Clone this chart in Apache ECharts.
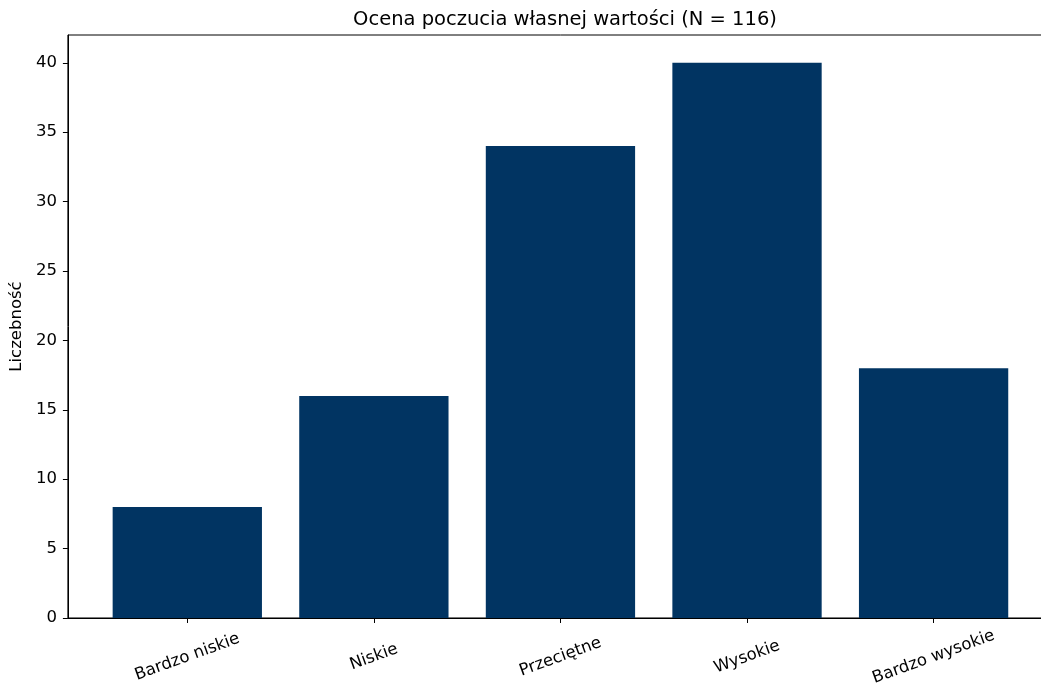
<!DOCTYPE html>
<html>
<head>
<meta charset="utf-8">
<script src="https://cdn.jsdelivr.net/npm/echarts@6/dist/echarts.min.js"></script>
<style>
  html, body { margin: 0; padding: 0; overflow: hidden; background: #fff; }
  #myChart { width: 1100px; height: 688px; }
</style>
</head>
<body>
<div id="myChart"></div>
<script>
// kategorie i liczebności
const categories = ["Bardzo niskie", "Niskie", "Przeciętne", "Wysokie", "Bardzo wysokie"];
const counts = [8, 16, 34, 40, 18];
const yTicks = [0, 5, 10, 15, 20, 25, 30, 35, 40];

const positions = categories.map((c, i) => i);
const font = "DejaVu Sans";

let myChart = echarts.init(document.getElementById("myChart"));

let option = {
  animation: false,
  title: {
    text: "Ocena poczucia własnej wartości (N = 116)",
    left: 560,
    top: 5,
    textAlign: "center",
    textStyle: {
      fontFamily: font,
      fontSize: 19.5,
      fontWeight: "normal",
      color: "#000"
    }
  },
  grid: {
    left: 67,
    top: 35,
    width: 986,
    height: 584.5,
    show: true,
    borderColor: "#000",
    borderWidth: 1
  },
  xAxis: {
    type: "value",
    min: -0.64,
    max: 4.64,
    splitLine: { show: false },
    axisLine: { show: true, onZero: false, lineStyle: { color: "#000", width: 1 } },
    axisTick: {
      show: true,
      customValues: positions,
      length: 5,
      lineStyle: { color: "#000" }
    },
    axisLabel: {
      customValues: positions,
      formatter: v => categories[Math.round(v)],
      rotate: 20,
      align: "center",
      verticalAlign: "middle",
      margin: 39,
      fontFamily: font,
      fontSize: 16.5,
      color: "#000"
    }
  },
  yAxis: {
    type: "value",
    min: 0,
    max: 42,
    name: "Liczebność",
    nameLocation: "middle",
    nameGap: 38,
    nameTextStyle: { fontFamily: font, fontSize: 16.5, color: "#000" },
    splitLine: { show: false },
    axisLine: { show: true, onZero: false, lineStyle: { color: "#000", width: 1 } },
    axisTick: { show: true, customValues: yTicks, length: 5, lineStyle: { color: "#000" } },
    axisLabel: {
      customValues: yTicks,
      margin: 11,
      fontFamily: font,
      fontSize: 16.5,
      color: "#000"
    }
  },
  series: [
    {
      type: "bar",
      barWidth: 149.3,
      itemStyle: { color: "#013462" },
      data: counts.map((v, i) => [positions[i], v])
    }
  ]
};

myChart.setOption(option, true);
</script>
</body>
</html>
